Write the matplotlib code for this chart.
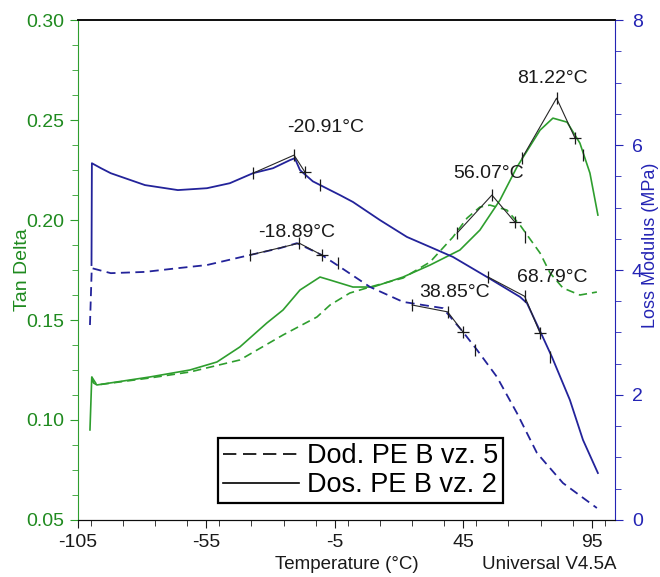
import matplotlib
matplotlib.use("Agg")
import matplotlib.pyplot as plt
from matplotlib.lines import Line2D
from matplotlib.ticker import MultipleLocator

plt.rcParams["font.family"] = ["Liberation Sans", "DejaVu Sans"]
plt.rcParams["axes.unicode_minus"] = False

# Loss modulus (MPa), right axis
T_LM_SOLID = [-99.7, -99.55, -96.0, -92.2, -78.9, -66.1, -54.8, -45.9, -36.9, -29.1, -22.5,
              -20.6, -18.6, -13.6, -6.9, -3.05, 2.0, 12.5, 23.0, 33.1, 40.9,
              54.1, 67.0, 69.7, 75.5, 79.4, 86.4, 91.5, 97.3]
LM_SOLID = [4.08, 5.71, 5.63, 5.55, 5.36, 5.28, 5.31, 5.39, 5.55, 5.63, 5.76,
            5.79, 5.60, 5.42, 5.28, 5.20, 5.09, 4.80, 4.53, 4.35, 4.21,
            3.89, 3.57, 3.47, 2.96, 2.61, 1.92, 1.28, 0.75]
T_LM_DASH = [-100.3, -99.6, -92.2, -78.9, -66.1, -54.8, -38.1, -26.4, -19.8, -16.7,
             -10.1, -3.05, 8.6, 21.5, 37.0, 44.8, 50.3, 58.0, 65.8, 73.6, 83.7, 96.9]
LM_DASH = [3.12, 4.03, 3.95, 3.97, 4.03, 4.08, 4.24, 4.35, 4.43, 4.37,
           4.24, 4.05, 3.73, 3.49, 3.39, 3.01, 2.72, 2.29, 1.71, 1.07, 0.59, 0.19]

# Tan delta, left axis
T_TD_SOLID = [-100.3, -99.6, -98.9, -97.6, -77.0, -61.4, -50.9, -42.0, -31.5, -25.2,
              -18.6, -10.8, -6.9, 2.0, 9.8, 21.5, 32.0, 43.6, 51.4, 59.2,
              65.8, 74.8, 79.8, 85.3, 90.3, 94.2, 97.3]
TD_SOLID = [0.095, 0.1215, 0.1185, 0.1175, 0.1215, 0.125, 0.129, 0.1365, 0.1485, 0.155,
            0.165, 0.1715, 0.170, 0.1665, 0.1665, 0.1715, 0.1775, 0.185, 0.195, 0.210,
            0.2265, 0.245, 0.251, 0.249, 0.2385, 0.2235, 0.2025]
T_TD_DASH = [-99.6, -97.6, -77.0, -61.4, -42.0, -25.2, -12.0, -6.9, 0.8, 8.6,
             21.5, 32.0, 40.9, 46.4, 51.4, 55.3, 61.9, 67.0, 74.8, 78.7,
             83.7, 90.3, 96.9]
TD_DASH = [0.1215, 0.1175, 0.121, 0.124, 0.130, 0.1425, 0.1515, 0.1575, 0.1635, 0.1665,
           0.171, 0.179, 0.1915, 0.201, 0.2065, 0.2075, 0.205, 0.1975, 0.1835, 0.1735,
           0.166, 0.1625, 0.164]

# peak / onset analysis marks: (T, value) points, label, label position
MARK_81_T, MARK_81_V = [67.8, 81.22, 88.4, 91.5], [0.231, 0.261, 0.241, 0.2325]
MARK_56_T, MARK_56_V = [42.5, 56.07, 65.0, 68.9], [0.1935, 0.2125, 0.199, 0.1915]
MARK_21_T, MARK_21_V = [-36.9, -20.91, -16.7, -10.8], [5.55, 5.84, 5.57, 5.36]
MARK_19_T, MARK_19_V = [-38.1, -18.89, -10.1, -3.8], [4.24, 4.43, 4.24, 4.11]
MARK_39_T, MARK_39_V = [25.0, 38.85, 44.8, 49.5], [3.44, 3.33, 3.01, 2.72]
MARK_69_T, MARK_69_V = [54.5, 68.79, 74.8, 78.7], [3.89, 3.58, 2.99, 2.61]

LABELS = ["81.22°C", "56.07°C", "-20.91°C", "-18.89°C", "38.85°C", "68.79°C"]
LABEL_T = [79.8, 54.9, -8.5, -19.8, 41.7, 79.4]
LABEL_TD = [0.271, 0.2235, 0.2465, 0.194, 0.164, 0.1715]

LEGEND = ["Dod. PE B vz. 5", "Dos. PE B vz. 2"]

GREEN = "#2e9e2e"
GREEN_TXT = "#1f8a1f"
BLUE = "#23239a"
BLUE_TXT = "#2424b4"
DASH = (0, (5, 3))

fig = plt.figure(figsize=(6.6, 5.77), dpi=100)
ax = fig.add_axes([0.118, 0.099, 0.814, 0.866])
ax2 = ax.twinx()

ax.plot(T_TD_SOLID, TD_SOLID, color=GREEN, lw=1.2)
ax.plot(T_TD_DASH, TD_DASH, color=GREEN, lw=1.2, ls=DASH)
ax2.plot(T_LM_SOLID, LM_SOLID, color=BLUE, lw=1.3)
ax2.plot(T_LM_DASH, LM_DASH, color=BLUE, lw=1.3, ls=DASH)


def marks(a, ts, vs):
    a.plot(ts[:3], vs[:3], color="0.15", lw=0.8)
    a.plot([ts[0], ts[1], ts[3]], [vs[0], vs[1], vs[3]], ls="none",
           marker="|", ms=8, mew=0.9, color="0.1")
    a.plot([ts[2]], [vs[2]], ls="none", marker="+", ms=9, mew=0.9, color="0.1")


marks(ax, MARK_81_T, MARK_81_V)
marks(ax, MARK_56_T, MARK_56_V)
marks(ax2, MARK_21_T, MARK_21_V)
marks(ax2, MARK_19_T, MARK_19_V)
marks(ax2, MARK_39_T, MARK_39_V)
marks(ax2, MARK_69_T, MARK_69_V)

for txt, t, v in zip(LABELS, LABEL_T, LABEL_TD):
    ax.text(t, v, txt, fontsize=14, ha="center", va="center", color="0.1",
            zorder=5)

ax.set_xlim(-105, 104)
ax.set_ylim(0.05, 0.30)
ax2.set_ylim(0, 8)
ax.set_xticks([-105, -55, -5, 45, 95])
ax.xaxis.set_minor_locator(MultipleLocator(12.5))
ax.set_yticks([0.05, 0.10, 0.15, 0.20, 0.25, 0.30])
ax.set_yticklabels(["0.05", "0.10", "0.15", "0.20", "0.25", "0.30"])
ax.yaxis.set_minor_locator(MultipleLocator(0.0125))
ax2.set_yticks([0, 2, 4, 6, 8])
ax2.yaxis.set_minor_locator(MultipleLocator(0.5))

ax.tick_params(axis="x", which="both", direction="out", colors="0.1",
               labelsize=14, pad=4)
ax.tick_params(axis="x", which="major", length=6)
ax.tick_params(axis="x", which="minor", length=4)
ax.tick_params(axis="y", which="both", direction="out", colors=GREEN,
               labelcolor=GREEN_TXT, labelsize=14, pad=4)
ax.tick_params(axis="y", which="major", length=6)
ax.tick_params(axis="y", which="minor", length=4)
ax2.tick_params(axis="y", which="both", direction="out", colors=BLUE_TXT,
                labelsize=14, pad=6)
ax2.tick_params(axis="y", which="major", length=6)
ax2.tick_params(axis="y", which="minor", length=4)

ax.spines["left"].set_color(GREEN)
ax.spines["right"].set_visible(False)
ax2.spines["left"].set_visible(False)
ax2.spines["right"].set_color(BLUE_TXT)
for a in (ax, ax2):
    a.spines["top"].set_color("0.05")
    a.spines["bottom"].set_color("0.05")
    a.spines["top"].set_linewidth(1.2)

ax.set_ylabel("Tan Delta", color=GREEN_TXT, fontsize=14)
ax.yaxis.set_label_coords(-0.087, 0.5)
ax2.set_ylabel("Loss Modulus (MPa)", color=BLUE_TXT, fontsize=13)
ax2.yaxis.set_label_coords(1.05, 0.55)

fig.text(0.526, 0.021, "Temperature (°C)", fontsize=13.5, ha="center",
         va="center", color="0.1")
fig.text(0.832, 0.021, "Universal V4.5A", fontsize=13.5, ha="center",
         va="center", color="0.1")

handles = [Line2D([], [], color="black", lw=1.2, ls=(0, (8, 4))),
           Line2D([], [], color="black", lw=1.2)]
leg = ax2.legend(handles, LEGEND, loc="lower left",
                 bbox_to_anchor=(0.261, 0.034), fontsize=19.5, frameon=True,
                 fancybox=False, edgecolor="black", framealpha=1,
                 handlelength=2.8, handletextpad=0.3, labelspacing=0.1,
                 borderpad=0.18, borderaxespad=0)
leg.get_frame().set_linewidth(1.6)

fig.savefig("out.png")
